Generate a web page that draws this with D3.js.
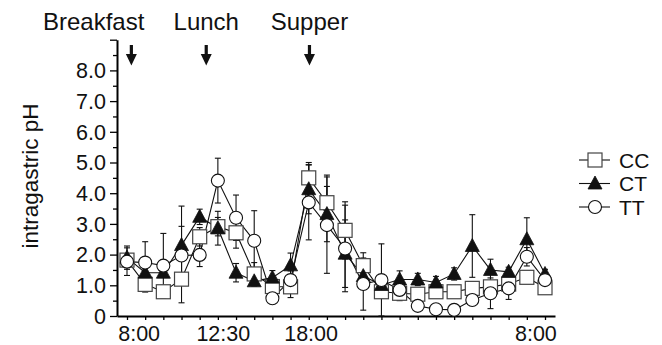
<!DOCTYPE html>
<html><head><meta charset="utf-8">
<script src="https://cdn.jsdelivr.net/npm/d3@7/dist/d3.min.js"></script>
<style>body{margin:0;background:#fff}svg{display:block;font-family:"Liberation Sans",Arial,Helvetica,sans-serif}</style>
</head><body><svg id="c" width="662" height="345"></svg>
<script>
// hourly time slots (index 0 = 8:00)
const slots = ["8:00","9:00","10:00","11:00","12:00","13:00","14:00","15:00","16:00","17:00","18:00","19:00","20:00","21:00","22:00","23:00","0:00","1:00","2:00","3:00","4:00","5:00","6:00","7:00"];
const seriesNames = ["CC","CT","TT"];
const ccValues = [1.82,1.03,0.79,1.2,2.58,2.91,2.71,1.37,0.96,0.95,4.5,3.69,2.79,1.64,0.79,0.74,0.71,0.79,0.79,0.9,0.95,1.04,1.26,0.92];
const ctValues = [1.9,1.41,1.41,2.31,3.23,2.86,1.41,1.13,1.25,1.65,4.13,3.32,2.03,1.3,1.01,1.19,1.19,1.09,1.37,2.28,1.5,1.44,2.5,1.37];
const ttValues = [1.77,1.74,1.64,1.97,1.99,4.41,3.2,2.45,0.58,1.17,3.7,2.96,2.2,1.04,1.17,0.85,0.33,0.22,0.2,0.52,0.74,0.9,1.93,1.17];
const ccErr = [0.2,0.25,0.2,0.77,0.3,0.3,0.5,0.37,0.1,0.35,0.5,0.9,0.93,0.42,0.2,0.2,0.15,0.1,0.1,0.1,0.1,0.15,0.15,0.1];
const ctErr = [0.38,0.15,0.15,1.27,0.25,0.55,0.3,0.15,0.23,0.4,0.8,0.9,1.1,0.4,0.2,0.28,0.2,0.2,0.2,1.02,0.35,0.15,0.7,0.15];
const ttErr = [0.45,0.68,1.05,0.95,0.38,0.73,0.74,0.98,0.1,0.3,1.22,1.57,1.41,0.85,1.18,0.35,0.1,0.1,0.1,0.15,0.5,0.36,0.3,0.15];
const xTickLabels = ["8:00","12:30","18:00","8:00"];
const xTickAt = [0.67,5.3,10.13,22.5];       // position in slot units
const yTickValues = [0,1,2,3,4,5,6,7,8];
const meals = ["Breakfast","Lunch","Supper"];
const mealAt = [0.24,4.36,10.04];             // position in slot units

const svg = d3.select("#c");
const x = d3.scaleLinear().domain([-0.55, 23.55]).range([117, 555]);
const y = d3.scaleLinear().domain([0, 9]).range([316, 39.7]);
const idx = slots.map((s,i)=>i);

// axes
const ax = svg.append("g").attr("transform","translate(0,316)")
  .call(d3.axisBottom(x).tickValues(idx).tickSize(4).tickSizeOuter(0).tickFormat(""));
ax.select(".domain").attr("stroke","#000").attr("stroke-width",2);
ax.selectAll(".tick line").attr("stroke","#000").attr("stroke-width",1.3);

const ay = svg.append("g").attr("transform","translate(117,0)")
  .call(d3.axisLeft(y).tickValues(d3.range(0,9.01,0.5)).tickSize(6).tickSizeOuter(0).tickFormat(""));
ay.select(".domain").attr("stroke","#000").attr("stroke-width",2);
ay.selectAll(".tick line").attr("stroke","#000").attr("stroke-width",1.3)
  .attr("x2", d => Number.isInteger(d) ? -7 : -4);

svg.append("g").selectAll("text").data(yTickValues).join("text")
  .attr("x",106).attr("y",d=>y(d)).attr("dy","0.36em").attr("text-anchor","end")
  .attr("font-size",21.5).attr("fill","#111").text(d=>d===0?"0":d.toFixed(1));

svg.append("g").selectAll("text").data(xTickLabels).join("text")
  .attr("x",(d,i)=>x(xTickAt[i])).attr("y",341).attr("text-anchor","middle")
  .attr("font-size",21.5).attr("fill","#111").text(d=>d);

svg.append("text").attr("transform","translate(38,176) rotate(-90)")
  .attr("text-anchor","middle").attr("font-size",22.5).attr("fill","#111").text("intragastric pH");

// meal annotations
const mg = svg.append("g");
meals.forEach((m,i)=>{
  const cx = x(mealAt[i]);
  mg.append("text").attr("x", i===0 ? cx+13 : cx).attr("y",30)
    .attr("text-anchor", i===0 ? "end" : "middle").attr("font-size",24).attr("fill","#111").text(m);
  mg.append("path").attr("fill","#111")
    .attr("d",`M${cx-1.6},45 L${cx+1.6},45 L${cx+1.6},54 L${cx+5.5},54 L${cx},65.5 L${cx-5.5},54 L${cx-1.6},54 Z`);
});

// data
const series = [
  {name:seriesNames[0], v:ccValues, e:ccErr, shape:"square"},
  {name:seriesNames[1], v:ctValues, e:ctErr, shape:"triangle"},
  {name:seriesNames[2], v:ttValues, e:ttErr, shape:"circle"}
];
function marker(g, shape, cx, cy){
  if(shape==="square") g.append("rect").attr("x",cx-7).attr("y",cy-7).attr("width",14).attr("height",14)
      .attr("fill","#fff").attr("stroke","#444").attr("stroke-width",1.2);
  else if(shape==="triangle") g.append("path").attr("d",`M${cx},${cy-7.5} L${cx+7},${cy+5.5} L${cx-7},${cy+5.5} Z`)
      .attr("fill","#111").attr("stroke","#111").attr("stroke-width",0.8);
  else g.append("circle").attr("cx",cx).attr("cy",cy).attr("r",6.5)
      .attr("fill","#fff").attr("stroke","#111").attr("stroke-width",1.1);
}
const line = d3.line().x((d,i)=>x(i)).y(d=>y(d));
// error bars
series.forEach(s=>{
  const g = svg.append("g").attr("stroke","#111").attr("stroke-width",1.1);
  s.v.forEach((v,i)=>{
    const cx=x(i), t=y(v+s.e[i]), b=y(Math.max(0,v-s.e[i]));
    g.append("line").attr("x1",cx).attr("x2",cx).attr("y1",t).attr("y2",b);
    g.append("line").attr("x1",cx-3).attr("x2",cx+3).attr("y1",t).attr("y2",t);
    g.append("line").attr("x1",cx-3).attr("x2",cx+3).attr("y1",b).attr("y2",b);
  });
});
series.forEach(s=>{
  svg.append("path").datum(s.v).attr("d",line).attr("fill","none").attr("stroke","#111").attr("stroke-width",1.1);
});
series.forEach(s=>{
  const g = svg.append("g");
  s.v.forEach((v,i)=>marker(g,s.shape,x(i),y(v)));
});

// legend
const lg = svg.append("g");
series.forEach((s,i)=>{
  const ly = 160 + i*23.5;
  lg.append("line").attr("x1",579).attr("x2",610).attr("y1",ly).attr("y2",ly).attr("stroke","#111").attr("stroke-width",1.1);
  marker(lg,s.shape,595,ly);
  lg.append("text").attr("x",619).attr("y",ly).attr("dy","0.36em").attr("font-size",21).attr("fill","#111").text(s.name);
});
</script></body></html>
